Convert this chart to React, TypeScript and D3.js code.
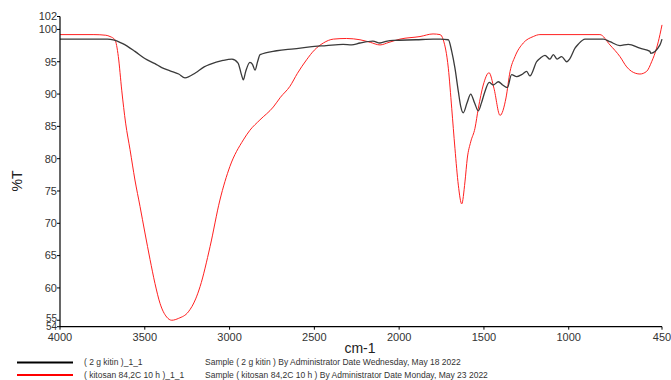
import React from "react";
import * as d3 from "d3";

const kitinWn = [4000,3800,3720,3686,3630,3558,3500,3440,3400,3351,3300,3263,3200,3150,3116,3039,2986,2950,2930,2919,2905,2880,2865,2850,2835,2820,2722,2620,2526,2430,2331,2280,2231,2155,2113,2070,2035,1900,1800,1759,1710,1690,1671,1651,1637,1622,1600,1578,1555,1533,1515,1494,1469,1445,1415,1390,1362,1337,1307,1278,1248,1229,1189,1170,1140,1111,1091,1068,1042,1012,993,963,944,904,796,757,698,649,580,521,517,462,450];
const kitinT = [98.5,98.5,98.5,98.4,97.8,96.6,95.5,94.7,94.1,93.6,93.1,92.5,93.3,94.2,94.6,95.2,95.4,94.8,93.0,92.2,93.5,94.9,94.6,93.7,95.0,96.1,96.7,97.0,97.3,97.5,97.7,97.6,97.9,98.2,97.9,98.2,98.3,98.4,98.5,98.5,98.4,96.6,94.0,90.4,88.1,87.1,88.6,90.0,88.6,87.4,88.6,90.4,91.8,91.4,91.9,91.4,91.0,93.0,92.7,93.0,93.5,92.8,95.0,95.5,96.0,95.4,96.1,95.4,95.8,95.0,95.5,97.1,97.7,98.5,98.5,98.1,97.5,97.7,97.1,96.6,96.3,97.6,98.5];

const kitosanWn = [4000,3800,3730,3705,3676,3656,3636,3613,3587,3558,3528,3499,3469,3440,3410,3371,3341,3300,3243,3200,3174,3115,3057,2998,2919,2880,2821,2742,2700,2644,2600,2546,2500,2447,2388,2310,2231,2170,2113,2060,1995,1877,1800,1759,1740,1710,1690,1671,1651,1631,1612,1598,1578,1553,1533,1504,1470,1441,1405,1370,1346,1317,1268,1209,1170,816,757,698,658,629,580,541,511,482,462,450];
const kitosanT = [99.2,99.2,99.1,98.9,98.4,95.8,90.6,85.5,81.4,76.7,72.6,68.5,64.4,60.7,57.6,55.5,55.0,55.3,56.3,58.3,60.2,66.4,73.6,78.8,82.9,84.4,86.0,88.0,89.5,91.2,93.2,95.3,96.8,97.9,98.5,98.6,98.4,98.0,97.6,98.0,98.5,98.9,99.3,99.2,98.4,94.0,87.8,81.6,75.9,73.0,76.4,80.1,82.6,84.7,87.8,91.4,93.3,90.9,86.7,89.4,93.5,95.8,97.9,98.9,99.2,99.2,97.6,95.8,94.2,93.5,93.1,93.5,95.0,97.1,99.2,100.7];

const xTicks = [4000, 3500, 3000, 2500, 2000, 1500, 1000, 450];
const yTicks = [54, 55, 60, 65, 70, 75, 80, 85, 90, 95, 100, 102];

const legendNames = ["( 2 g kitin )_1_1", "( kitosan 84,2C 10 h )_1_1"];
const legendDescs = [
  "Sample ( 2 g kitin ) By Administrator Date Wednesday, May 18 2022",
  "Sample ( kitosan 84,2C 10 h ) By Administrator Date Monday, May 23 2022",
];
const colors = ["#3a3a3a", "#ff2020"];
const legendColors = ["#000000", "#ff0000"];

export default function App() {
  const W = 671, H = 380;
  const left = 60, right = 662, top = 16.5, bottom = 326.7;
  const x = d3.scaleLinear().domain([4000, 450]).range([left, right]);
  const y = d3.scaleLinear().domain([54, 102]).range([bottom, top]);
  const line = d3
    .line<[number, number]>()
    .x((d) => x(d[0]))
    .y((d) => y(d[1]))
    .curve(d3.curveMonotoneX);
  const series = [
    kitinWn.map((w, i) => [w, kitinT[i]] as [number, number]),
    kitosanWn.map((w, i) => [w, kitosanT[i]] as [number, number]),
  ];
  const font = "Arial, 'Liberation Sans', sans-serif";
  const labelShift = (t: number) => (t === 54 ? 0 : t === 55 ? -2 : t === 102 ? -0.5 : 0);
  return (
    <svg width={W} height={H} style={{ position: "absolute", left: 0, top: 0, background: "#fff" }} fontFamily={font}>
      <rect width={W} height={H} fill="#fff" />
      <path d={line(series[1]) || ""} fill="none" stroke={colors[1]} strokeWidth={1} />
      <path d={line(series[0]) || ""} fill="none" stroke={colors[0]} strokeWidth={1.3} />
      <line x1={left} x2={left} y1={top} y2={bottom} stroke="#000" strokeWidth={1.2} />
      <line x1={left} x2={right} y1={bottom} y2={bottom} stroke="#000" strokeWidth={1.2} />
      {yTicks.map((t) => (
        <g key={"y" + t}>
          <line x1={left - 3} x2={left} y1={y(t)} y2={y(t)} stroke="#000" />
          <text x={left - 3} y={y(t) + labelShift(t)} dy="0.35em" textAnchor="end" fontSize={t === 54 || t === 55 ? 10 : 11} fill="#333">
            {t}
          </text>
        </g>
      ))}
      {xTicks.map((t) => (
        <g key={"x" + t}>
          <line x1={x(t)} x2={x(t)} y1={bottom} y2={bottom + 3} stroke="#000" />
          <text x={x(t)} y={bottom + 14.5} textAnchor="middle" fontSize={11} fill="#333">
            {t}
          </text>
        </g>
      ))}
      <text x={360} y={353} textAnchor="middle" fontSize={14} fill="#222">cm-1</text>
      <text transform={`translate(22,181) rotate(-90)`} textAnchor="middle" fontSize={14} fill="#222">%T</text>
      {legendNames.map((n, i) => (
        <g key={"l" + i}>
          <line x1={17} x2={73} y1={362.5 + i * 12.5} y2={362.5 + i * 12.5} stroke={legendColors[i]} strokeWidth={2} />
          <text x={84} y={365 + i * 12.5} fontSize={8.5} fill="#333">{n}</text>
          <text x={205} y={365 + i * 12.5} fontSize={8.5} fill="#333">{legendDescs[i]}</text>
        </g>
      ))}
    </svg>
  );
}
